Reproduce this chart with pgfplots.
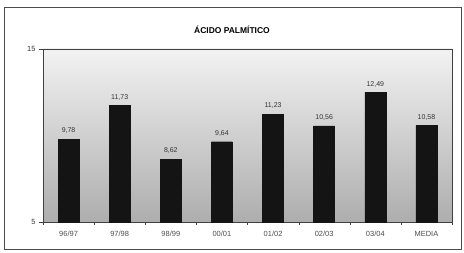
\documentclass[border=0pt]{standalone}
\usepackage{pgfplots}
\pgfplotsset{compat=1.18}
\usepackage{fontspec}
\setmainfont{Liberation Sans}
\begin{document}
\begin{tikzpicture}[x=1bp,y=1bp]
\path (0,0) rectangle (464,252);
\draw[black!70, line width=0.8bp] (4,3) rectangle (461,245);
\node[font=\bfseries\fontsize{8.5}{9}\selectfont] at (232,222) {ÁCIDO PALMÍTICO};
\begin{axis}[
  at={(43bp,30bp)}, anchor=south west,
  scale only axis, width=409bp, height=173bp,
  ymin=5, ymax=15, xmin=-0.5, xmax=7.5,
  axis background/.style={shade, top color=black!5, bottom color=black!32},
  axis line style={black!75, line width=0.8bp},
  ytick={5,15}, yticklabels={5,15},
  yticklabel style={font=\fontsize{7.5}{8}\selectfont, text=black!80},
  xtick={0,...,7},
  xticklabels={96/97,97/98,98/99,00/01,01/02,02/03,03/04,MEDIA},
  xticklabel style={font=\fontsize{7.5}{8}\selectfont, text=black!70, yshift=-2bp},
  minor xtick={-0.5,0.5,...,7.5},
  major tick length=4bp,
  minor tick length=2.5bp,
  major x tick style={draw=none},
  tick style={draw=black!75},
  tick align=outside,
  tick pos=left,
  /pgf/number format/assume math mode=true,
  /pgf/number format/.cd, fixed, fixed zerofill, precision=2, use comma,
]
\addplot[ybar, bar width=21bp, fill=black!92, draw=black!92,
  nodes near coords,
  every node near coord/.append style={font=\fontsize{7}{8}\selectfont, text=black!80, yshift=2bp}]
  coordinates {(0,9.78) (1,11.73) (2,8.62) (3,9.64) (4,11.23) (5,10.56) (6,12.49) (7,10.58)};
\end{axis}
\end{tikzpicture}
\end{document}
